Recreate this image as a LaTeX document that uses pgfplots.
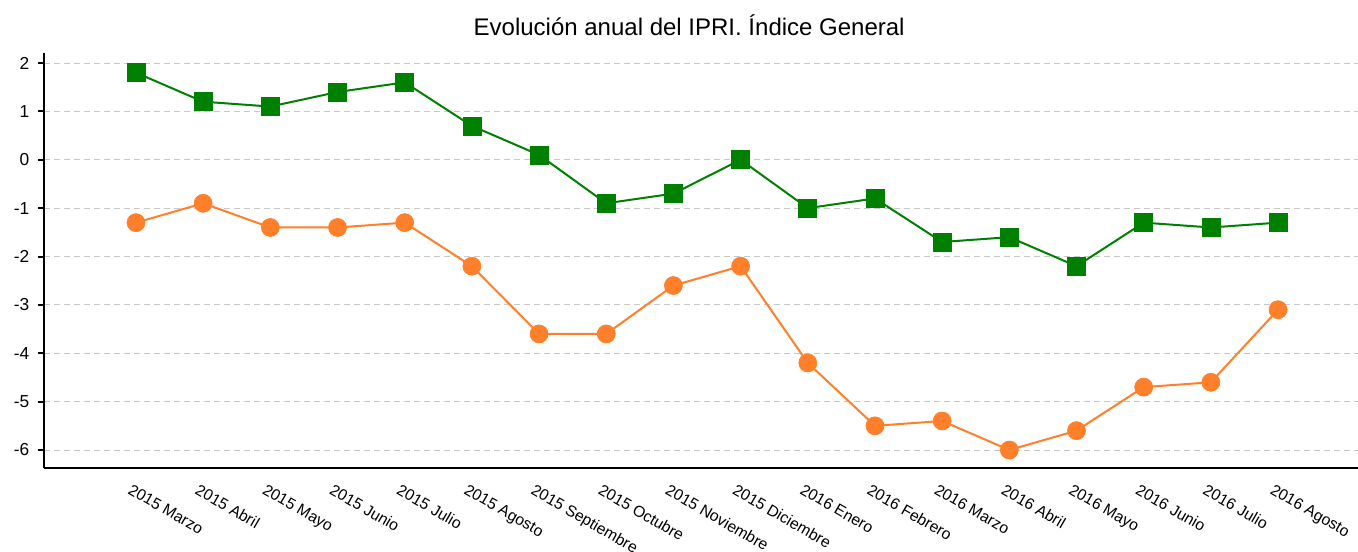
\documentclass[border=0pt]{standalone}
\usepackage{fontspec}
\setmainfont{Liberation Sans}
\usepackage{pgfplots}
\pgfplotsset{compat=1.18}
\definecolor{grn}{RGB}{0,128,0}
\definecolor{org}{RGB}{255,127,42}
\definecolor{grd}{RGB}{200,200,200}
\begin{document}
\begin{tikzpicture}
\begin{axis}[
  name=ax,
  scale only axis,
  width=985.5pt, height=311.25pt,
  xmin=-1.369, xmax=18.19,
  ymin=-6.372, ymax=2.207,
  axis x line*=bottom, axis y line*=left,
  axis line style={-, line width=1.5pt, black},
  xtick={0,...,17},
  xticklabels={2015 Marzo,2015 Abril,2015 Mayo,2015 Junio,2015 Julio,2015 Agosto,2015 Septiembre,2015 Octubre,2015 Noviembre,2015 Diciembre,2016 Enero,2016 Febrero,2016 Marzo,2016 Abril,2016 Mayo,2016 Junio,2016 Julio,2016 Agosto},
  xticklabel style={rotate=-30, anchor=north west, font=\fontsize{11.8pt}{14pt}\selectfont, xshift=-2pt, yshift=-4pt},
  major x tick style={draw=none},
  ytick={-6,-5,-4,-3,-2,-1,0,1,2},
  yticklabels={-6,-5,-4,-3,-2,-1,0,1,2},
  yticklabel style={font=\fontsize{13pt}{15pt}\selectfont, xshift=-3pt},
  tick align=outside,
  major tick length=4.5pt,
  major y tick style={black, line width=1.5pt},
  ymajorgrids,
  major grid style={grd, line width=0.75pt, dash pattern=on 4.5pt off 3pt},
  title={Evolución anual del IPRI. Índice General},
  title style={at={(0.491,1)}, anchor=center, yshift=14.5pt, font=\fontsize{18pt}{21pt}\selectfont},
  clip=false,
]
\addplot[color=grn, line width=1.5pt, mark=square*, mark size=6.75pt, mark options={fill=grn, draw=grn, line width=0.5pt}] coordinates {
(0,1.8) (1,1.2) (2,1.1) (3,1.4) (4,1.6) (5,0.7) (6,0.1) (7,-0.9) (8,-0.7) (9,0.0) (10,-1.0) (11,-0.8) (12,-1.7) (13,-1.6) (14,-2.2) (15,-1.3) (16,-1.4) (17,-1.3)
};
\addplot[color=org, line width=1.5pt, mark=*, mark size=6.75pt, mark options={fill=org, draw=org, line width=0.5pt}] coordinates {
(0,-1.3) (1,-0.9) (2,-1.4) (3,-1.4) (4,-1.3) (5,-2.2) (6,-3.6) (7,-3.6) (8,-2.6) (9,-2.2) (10,-4.2) (11,-5.5) (12,-5.4) (13,-6.0) (14,-5.6) (15,-4.7) (16,-4.6) (17,-3.1)
};
\end{axis}
\pgfresetboundingbox
\path ([xshift=-33pt,yshift=-62.25pt]ax.south west) rectangle ([yshift=39.75pt]ax.north east);
\end{tikzpicture}
\end{document}
